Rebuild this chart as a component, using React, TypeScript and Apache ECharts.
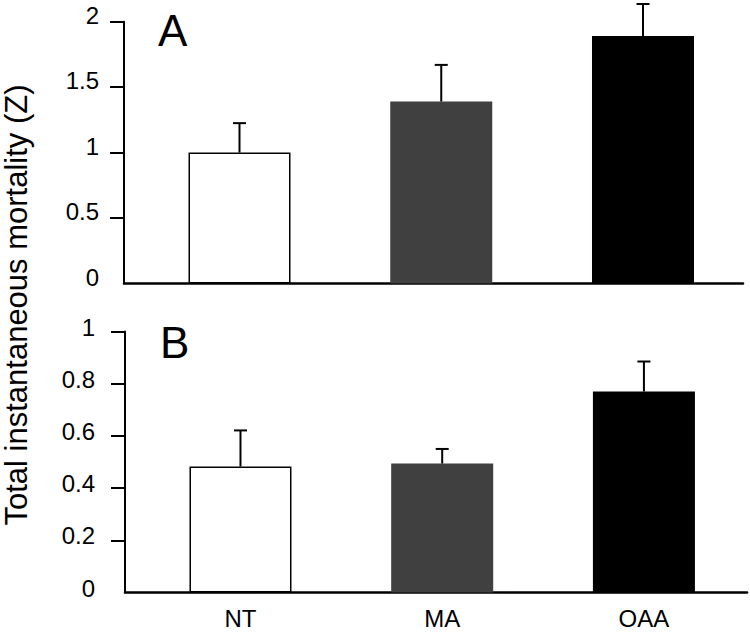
import React, { useEffect, useRef } from "react";
import * as echarts from "echarts";

const categories = ["NT", "MA", "OAA"];
const meanA = [1.0, 1.39, 1.89];
const seA = [0.225, 0.28, 0.245];
const meanB = [0.483, 0.494, 0.77];
const seB = [0.138, 0.056, 0.115];
const barColors = ["#ffffff", "#404040", "#000000"];
const barBorders = ["#000000", "#404040", "#000000"];
const ticksA = [0.5, 1, 1.5, 2];
const ticksB = [0.2, 0.4, 0.6, 0.8, 1];
const yTitle = "Total instantaneous mortality (Z)";

const FONT = "Liberation Sans, Arial, Helvetica, sans-serif";

function barData(means: number[]) {
  return means.map((v, i) => ({
    value: [i, v],
    itemStyle: { color: barColors[i], borderColor: barBorders[i], borderWidth: 1.5 },
  }));
}

function errData(means: number[], se: number[]) {
  return means.map((v, i) => [i, v, v + se[i]]);
}

function renderErr(params: any, api: any) {
  const x = api.value(0);
  const base = api.coord([x, api.value(1)]);
  const top = api.coord([x, api.value(2)]);
  const hw = 6.5;
  const style = { stroke: "#000", lineWidth: 2 };
  return {
    type: "group",
    children: [
      { type: "line", shape: { x1: base[0], y1: base[1], x2: top[0], y2: top[1] }, style },
      { type: "line", shape: { x1: top[0] - hw, y1: top[1], x2: top[0] + hw, y2: top[1] }, style },
    ],
  };
}

export default function App() {
  const ref = useRef<HTMLDivElement>(null);
  useEffect(() => {
    document.body.style.margin = "0";
    if (!ref.current) return;
    const chart = echarts.init(ref.current, undefined, { renderer: "svg" });
    const yAxisCommon = (extra: any) => ({
      type: "value",
      min: 0,
      splitLine: { show: false },
      axisLine: { show: true, onZero: false, lineStyle: { color: "#000", width: 2 } },
      ...extra,
    });
    const option: any = {
      animation: false,
      backgroundColor: "#ffffff",
      textStyle: { fontFamily: FONT },
      grid: [
        { left: 124, top: 21.7, width: 619, height: 261.8 },
        { left: 125, top: 331.5, width: 622, height: 261 },
      ],
      xAxis: [
        {
          type: "value",
          gridIndex: 0,
          min: -0.5725,
          max: 2.4957,
          splitLine: { show: false },
          axisTick: { show: false },
          axisLabel: { show: false },
          axisLine: { show: true, onZero: false, lineStyle: { color: "#000", width: 2.5 } },
        },
        {
          type: "value",
          gridIndex: 1,
          min: -0.5725,
          max: 2.511,
          splitLine: { show: false },
          axisTick: { show: false },
          axisLine: { show: true, onZero: false, lineStyle: { color: "#000", width: 2.5 } },
          axisLabel: {
            show: true,
            customValues: [0, 1, 2],
            formatter: (v: number) => (Number.isInteger(v) && categories[v] ? categories[v] : ""),
            color: "#000",
            fontSize: 24,
            fontFamily: FONT,
            margin: 14,
          },
        },
      ],
      yAxis: [
        yAxisCommon({
          gridIndex: 0,
          max: 2,
          interval: 0.5,
          axisTick: { show: true, inside: false, length: 14, customValues: ticksA, lineStyle: { color: "#000", width: 2 } },
          axisLabel: { color: "#000", fontSize: 24, fontFamily: FONT, margin: 25, verticalAlign: "bottom", lineHeight: 13 },
        }),
        yAxisCommon({
          gridIndex: 1,
          max: 1,
          interval: 0.2,
          axisTick: { show: true, inside: false, length: 14, customValues: ticksB, lineStyle: { color: "#000", width: 2 } },
          axisLabel: { color: "#000", fontSize: 24, fontFamily: FONT, margin: 30, verticalAlign: "bottom", lineHeight: 9 },
        }),
      ],
      series: [
        { type: "bar", xAxisIndex: 0, yAxisIndex: 0, barWidth: 102, data: barData(meanA), z: 2 },
        { type: "custom", xAxisIndex: 0, yAxisIndex: 0, renderItem: renderErr, data: errData(meanA, seA), clip: false, z: 3 },
        { type: "bar", xAxisIndex: 1, yAxisIndex: 1, barWidth: 102, data: barData(meanB), z: 2 },
        { type: "custom", xAxisIndex: 1, yAxisIndex: 1, renderItem: renderErr, data: errData(meanB, seB), clip: false, z: 3 },
      ],
      graphic: [
        {
          type: "text",
          x: 16,
          y: 305,
          rotation: Math.PI / 2,
          style: { text: yTitle, font: `31px ${FONT}`, fill: "#000", textAlign: "center", textVerticalAlign: "middle" },
        },
        {
          type: "text",
          x: 158,
          y: 30.4,
          style: { text: "A", font: `44px ${FONT}`, fill: "#000", textAlign: "left", textVerticalAlign: "middle" },
        },
        {
          type: "text",
          x: 160,
          y: 342,
          style: { text: "B", font: `44px ${FONT}`, fill: "#000", textAlign: "left", textVerticalAlign: "middle" },
        },
      ],
    };
    chart.setOption(option);
    return () => chart.dispose();
  }, []);
  return <div ref={ref} style={{ width: 750, height: 632 }} />;
}
